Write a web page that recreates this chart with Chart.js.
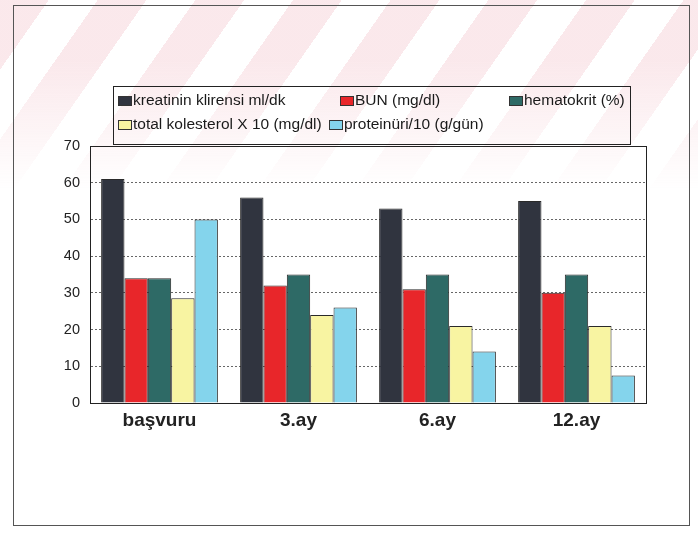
<!DOCTYPE html>
<html>
<head>
<meta charset="utf-8">
<script src="https://cdn.jsdelivr.net/npm/chart.js@4.4.1/dist/chart.umd.min.js"></script>
<style>
    html, body { margin: 0; padding: 0; background: #fff; }
    #wrap { position: relative; width: 698px; height: 537px; }
    #mark {
        position: absolute; left: 0; top: 0; width: 698px; height: 210px;
        background: repeating-linear-gradient(125deg, rgba(240, 180, 190, 0.3) 0 40px, transparent 40px 80px);
        -webkit-mask-image: linear-gradient(to bottom, #000 0, #000 60px, transparent 190px);
        mask-image: linear-gradient(to bottom, #000 0, #000 60px, transparent 190px);
    }
    canvas { position: absolute; left: 0; top: 0; }
</style>
</head>
<body>
<div id="wrap">
    <div id="mark"></div>
    <canvas id="barChart" width="698" height="537"></canvas>
</div>
<script>
const categories = ['başvuru', '3.ay', '6.ay', '12.ay'];
const seriesNames = ['kreatinin klirensi ml/dk', 'BUN (mg/dl)', 'hematokrit (%)', 'total kolesterol X 10 (mg/dl)', 'proteinüri/10 (g/gün)'];
const kreatinin = [61, 56, 53, 55];
const bun = [34, 32, 31, 30];
const hematokrit = [34, 35, 35, 35];
const kolesterol = [28.5, 24, 21, 21];
const proteinuri = [50, 26, 14, 7.5];
const yTicks = [0, 10, 20, 30, 40, 50, 60, 70];

const colors = ['#30343f', '#e8262a', '#2e6a66', '#f8f4a2', '#84d4ec'];
const values = [kreatinin, bun, hematokrit, kolesterol, proteinuri];

// legend box and outer frame, drawn like the original sheet
const sheetPlugin = {
    id: 'sheet',
    afterDraw(chart) {
        const ctx = chart.ctx;
        const area = chart.chartArea;
        ctx.save();
        ctx.strokeStyle = '#555';
        ctx.lineWidth = 1;
        ctx.strokeRect(13.5, 5.5, 676, 520);

        ctx.strokeStyle = '#222';
        ctx.strokeRect(Math.round(area.left) + 0.5, Math.round(area.top) + 0.5,
            Math.round(area.right - area.left), Math.round(area.bottom - area.top));

        ctx.strokeRect(113.5, 86.5, 517, 58);
        const spots = [[118, 101], [340, 101], [509, 101], [118, 125], [329, 125]];
        ctx.font = '15.5px "Liberation Sans", Arial, sans-serif';
        ctx.textBaseline = 'middle';
        chart.data.datasets.forEach((ds, i) => {
            const [x, y] = spots[i];
            ctx.fillStyle = ds.backgroundColor;
            ctx.fillRect(x, y - 5, 14, 10);
            ctx.strokeStyle = '#333';
            ctx.strokeRect(x + 0.5, y - 4.5, 13, 9);
            ctx.fillStyle = '#1a1a1a';
            ctx.fillText(ds.label, x + 15, y);
        });
        ctx.restore();
    }
};

new Chart(document.getElementById('barChart').getContext('2d'), {
    type: 'bar',
    data: {
        labels: categories,
        datasets: values.map((v, i) => ({
            label: seriesNames[i],
            data: v,
            backgroundColor: colors[i],
            borderColor: '#2a2a2a',
            borderWidth: 1,
            categoryPercentage: 0.84,
            barPercentage: 1.0
        }))
    },
    options: {
        responsive: false,
        animation: false,
        events: [],
        layout: {
            padding: { left: 50, right: 52, top: 146, bottom: 94 }
        },
        plugins: {
            legend: { display: false },
            tooltip: { enabled: false }
        },
        scales: {
            x: {
                grid: { display: false, drawTicks: false },
                border: { display: true, color: '#222' },
                ticks: {
                    color: '#222',
                    padding: 6,
                    font: { family: '"Liberation Sans", Arial, sans-serif', size: 19, weight: 'bold' }
                },
                afterFit(scale) { scale.height = 40; }
            },
            y: {
                min: 0,
                max: 70,
                afterBuildTicks(scale) { scale.ticks = yTicks.map(v => ({ value: v })); },
                grid: { color: '#666', drawTicks: false },
                border: { display: true, color: '#222', dash: [2, 2] },
                ticks: {
                    color: '#222',
                    padding: 10,
                    font: { family: '"Liberation Sans", Arial, sans-serif', size: 14.5 }
                },
                afterFit(scale) { scale.width = 40; }
            }
        }
    },
    plugins: [sheetPlugin]
});
</script>
</body>
</html>
